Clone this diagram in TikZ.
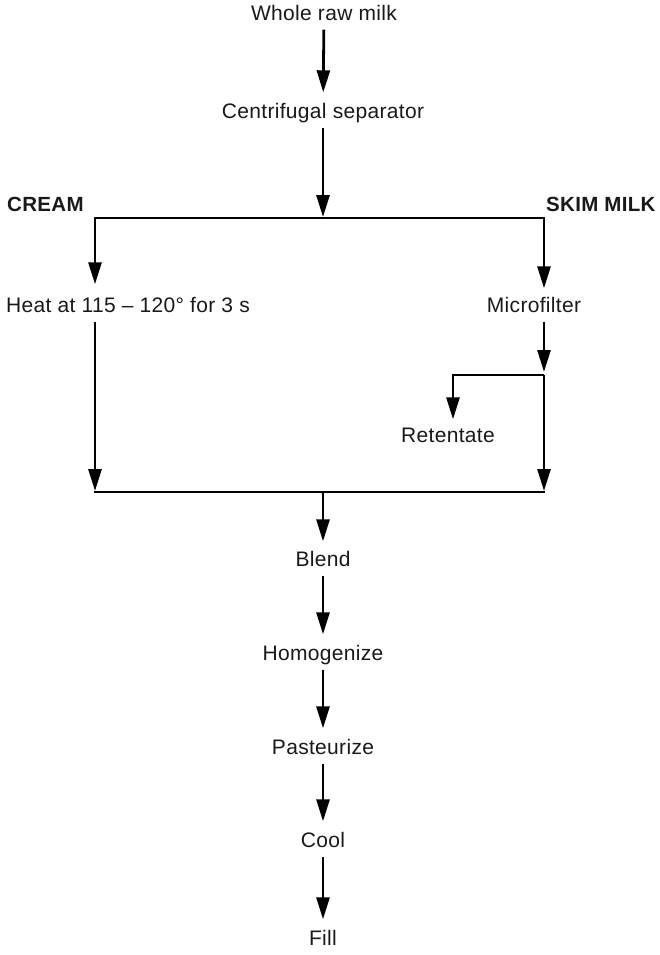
\documentclass[tikz,border=0pt]{standalone}
\usepackage{fontspec}
\setmainfont[LetterSpace=1.5]{Liberation Sans}
\usetikzlibrary{arrows.meta}
\begin{document}
\begin{tikzpicture}[x=1pt,y=-1pt,
 lbl/.style={font=\fontsize{21}{25}\selectfont, inner sep=0pt, text height=15pt, text depth=4pt, text=black!90},
 hd/.style={lbl, font=\fontsize{20.5}{25}\selectfont\bfseries},
 flow/.style={draw=black, line width=2.8pt, -{Triangle[length=22pt,width=13pt]}, shorten <=5pt, shorten >=11pt},
 wire/.style={draw=black, line width=2.8pt, line cap=rect}]
\useasboundingbox (0,0) rectangle (660,955);

% nodes
\node[lbl] (whole) at (324,15) {Whole raw milk};
\node[lbl] (sep) at (323,113) {Centrifugal separator};
\node[hd, anchor=west] (cream) at (7,206) {CREAM};
\node[hd, anchor=west] (skim) at (546,206) {SKIM MILK};
\node[lbl, anchor=west] (heat) at (6,307) {Heat at 115 -- 120° for 3 s};
\node[lbl] (micro) at (534,307) {Microfilter};
\node[lbl] (ret) at (448,437) {Retentate};
\node[lbl] (blend) at (323,561) {Blend};
\node[lbl] (homog) at (323,655) {Homogenize};
\node[lbl] (past) at (323,749) {Pasteurize};
\node[lbl] (cool) at (323,842) {Cool};
\node[lbl] (fill) at (323,940) {Fill};

% junction coordinates
\coordinate (tj) at (323,218);
\coordinate (lc) at (95,218);
\coordinate (rc) at (544,218);
\coordinate (mb) at (544,375);
\coordinate (rt) at (453,375);
\coordinate (bl) at (95,492);
\coordinate (br) at (544,492);
\coordinate (bm) at (323,492);

% connectors
\draw[flow] (whole) -- (sep);
\draw[flow, shorten >=1pt] (sep) -- (tj);
\draw[flow, shorten <=0pt, shorten >=13pt] (tj) -| (lc |- heat.north);
\draw[flow, shorten <=0pt, shorten >=9pt] (tj) -| (rc |- micro.north);
\draw[flow, shorten >=1pt] (lc |- heat.south) -- (bl);
\draw[flow, shorten >=3pt] (rc |- micro.south) -- (mb);
\draw[flow, shorten <=0pt, shorten >=8pt] (mb) -- (rt) -- (rt |- ret.north);
\draw[flow, shorten <=0pt, shorten >=1pt] (mb) -- (br);
\draw[wire] (bl) -- (br);
\draw[flow, shorten <=0pt, shorten >=10pt] (bm) -- (blend);
\draw[flow] (blend) -- (homog);
\draw[flow] (homog) -- (past);
\draw[flow] (past) -- (cool);
\draw[flow] (cool) -- (fill);
\end{tikzpicture}
\end{document}
